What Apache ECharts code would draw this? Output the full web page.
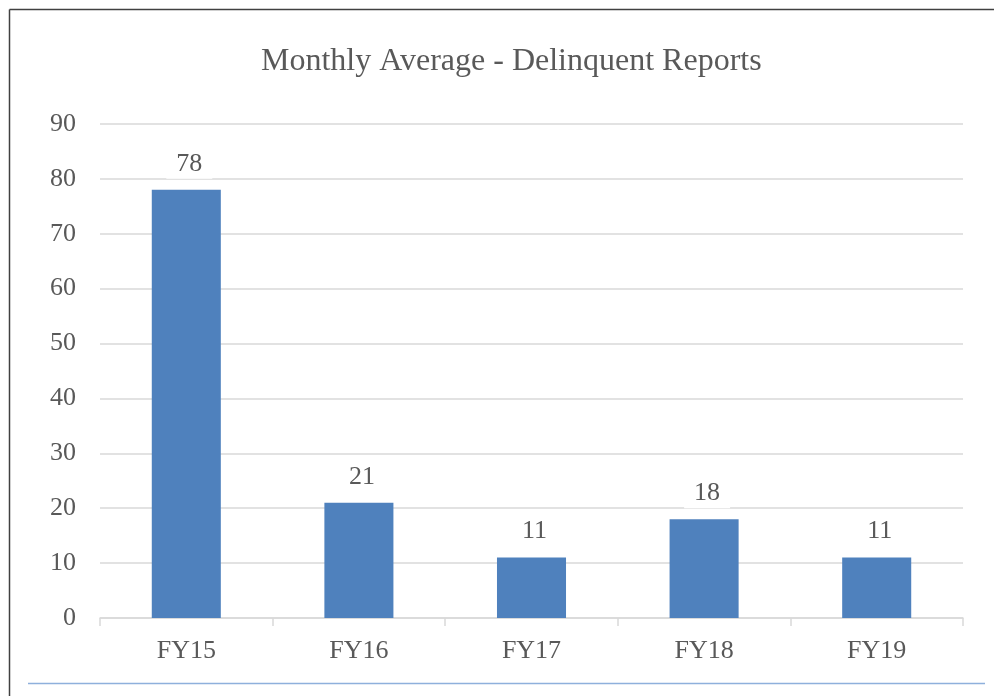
<!DOCTYPE html>
<html lang="en">
<head>
    <meta charset="UTF-8">
    <title>Monthly Average - Delinquent Reports</title>
    <style>
        body, html {
            margin: 0;
            height: 100%;
            width: 100%;
            background: #fff;
        }
    </style>
</head>
<body>
<div id="main" style="height: 696px; width: 994px;"></div>
<script src="https://cdn.jsdelivr.net/npm/echarts@6/dist/echarts.min.js"></script>
<script>
    var categories = ['FY15', 'FY16', 'FY17', 'FY18', 'FY19'];
    var values = [78, 21, 11, 18, 11];
    var yTicks = [0, 90, 10]; // min, max, interval

    var font = '"Liberation Serif", "Times New Roman", serif';
    var myChart = echarts.init(document.getElementById('main'));

    myChart.setOption({
        backgroundColor: '#fff',
        animation: false,
        title: {
            text: 'Monthly Average - Delinquent Reports',
            left: 256,
            top: 41,
            textStyle: {
                fontFamily: font,
                fontSize: 32,
                fontWeight: 'normal',
                color: '#595959'
            }
        },
        // outer frame like the source picture
        graphic: [
            { type: 'line', shape: { x1: 9.5, y1: 9.5, x2: 994, y2: 9.5 }, style: { stroke: '#404040', lineWidth: 1.5 } },
            { type: 'line', shape: { x1: 9.5, y1: 9.5, x2: 9.5, y2: 696 }, style: { stroke: '#404040', lineWidth: 1.5 } },
            { type: 'line', shape: { x1: 28, y1: 683.5, x2: 985, y2: 683.5 }, style: { stroke: '#8eb0dc', lineWidth: 1.5 } }
        ],
        grid: {
            left: 100,
            right: 31,
            top: 124,
            bottom: 78,
            containLabel: false
        },
        xAxis: {
            type: 'category',
            data: categories,
            axisLine: { lineStyle: { color: '#d9d9d9', width: 1.5 } },
            axisTick: { show: true, length: 8, lineStyle: { color: '#d9d9d9', width: 1.5 } },
            axisLabel: {
                fontFamily: font,
                fontSize: 26,
                color: '#595959',
                margin: 20
            }
        },
        yAxis: {
            type: 'value',
            min: yTicks[0],
            max: yTicks[1],
            interval: yTicks[2],
            axisLine: { show: false },
            axisTick: { show: false },
            splitLine: { lineStyle: { color: '#d9d9d9', width: 1.5 } },
            axisLabel: {
                fontFamily: font,
                fontSize: 26,
                color: '#595959',
                margin: 24
            }
        },
        series: [{
            type: 'bar',
            data: values,
            barWidth: '40%',
            itemStyle: { color: '#4f81bd' },
            label: {
                show: true,
                position: 'top',
                distance: 11,
                offset: [3, 0],
                fontFamily: font,
                fontSize: 26,
                color: '#595959',
                backgroundColor: '#fff',
                padding: [2, 10, 2, 10]
            }
        }]
    });
</script>
</body>
</html>
